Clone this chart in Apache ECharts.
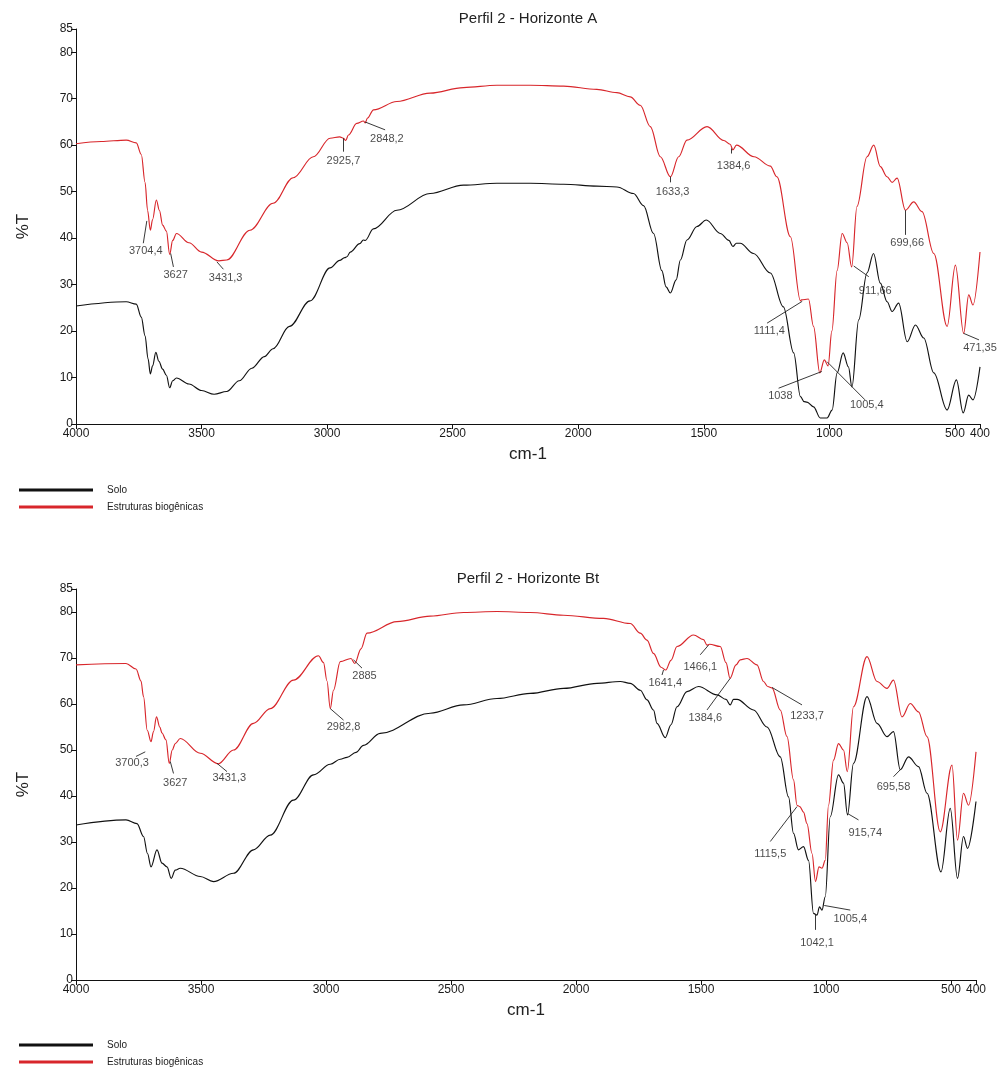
<!DOCTYPE html>
<html>
<head>
<meta charset="utf-8">
<script src="https://cdn.jsdelivr.net/npm/echarts@6.0.0/dist/echarts.min.js"></script>
<style>
html,body{margin:0;padding:0;background:#fff;}
#chart{width:1005px;height:1073px;}
</style>
</head>
<body>
<div id="chart"></div>
<script>
// ---------- DATA ----------
const titles = ['Perfil 2 - Horizonte A', 'Perfil 2 - Horizonte Bt'];
const seriesNames = ['Solo', 'Estruturas biogênicas'];
const xTicks = [4000, 3500, 3000, 2500, 2000, 1500, 1000, 500, 400];
const yTicks = [0, 10, 20, 30, 40, 50, 60, 70, 80, 85];

// Horizonte A - Solo  [cm-1, %T]
const soloA = [[4000,25.4],[3800,26.3],[3760,25.8],[3740,23],[3725,19],[3713,14],[3704,10.8],[3695,12.5],[3682,15.4],[3670,13.5],[3655,11.8],[3640,10.5],[3627,7.8],[3615,9.3],[3600,9.9],[3550,8.6],[3500,7.2],[3450,6.4],[3400,7],[3350,9.3],[3300,12],[3250,14.5],[3215,16.2],[3150,21],[3068,26.5],[2988,33.6],[2950,35.2],[2930,35.8],[2921,36],[2908,37],[2870,38.8],[2856,39.6],[2848,39.5],[2816,42],[2722,46],[2590,49.6],[2457,51.4],[2324,51.8],[2191,51.8],[2058,51.6],[1926,51.2],[1846,51],[1780,49.6],[1740,47],[1700,41],[1667,33],[1650,29.5],[1633,28.2],[1610,31],[1593,35.3],[1567,39.6],[1527,42.5],[1490,43.9],[1434,41],[1400,39.5],[1384,38.2],[1370,38.9],[1355,38.9],[1302,36.7],[1235,32.5],[1183,25.2],[1142,15.3],[1115,5.9],[1100,4.8],[1089,4.7],[1063,3.7],[1036,1.3],[1009,1.3],[989,3],[969,11],[945,15.3],[924,12.3],[910,8],[883,22.4],[850,32.5],[824,36.7],[797,30.3],[770,26.3],[750,24.2],[724,26],[690,17.7],[657,21.3],[624,18.5],[584,11],[531,3],[494,9.5],[467,2.4],[445,6.2],[428,5.2],[400,12.3]];

// Horizonte A - Estruturas biogênicas
const bioA = [[4000,60.3],[3900,60.8],[3800,61.1],[3760,60.5],[3740,58],[3725,52],[3715,46],[3704,41.7],[3695,44],[3680,48.2],[3668,46],[3655,42.8],[3640,41.5],[3627,36.5],[3615,39.5],[3600,41],[3550,39],[3500,37],[3431,35.1],[3400,35.3],[3307,41.7],[3215,47.5],[3135,53],[3055,57.5],[2988,61.5],[2950,61.8],[2935,61.5],[2926,61],[2915,62.2],[2882,64.7],[2855,65.2],[2848,64.8],[2840,65.8],[2815,67.6],[2722,69.4],[2590,71.2],[2457,72.4],[2324,72.9],[2191,72.9],[2058,72.7],[1926,72],[1846,71.3],[1793,70.4],[1753,68.6],[1713,64],[1673,57.5],[1633,53.2],[1600,57.5],[1567,61.1],[1487,64],[1420,61],[1395,60.2],[1384,59],[1370,60],[1300,57.5],[1235,55.5],[1209,53.2],[1155,40.3],[1115,26.5],[1111,26.7],[1083,26.9],[1063,21],[1038,11],[1020,13.8],[1005,12.5],[990,20],[969,33],[949,41],[929,39],[911,33.8],[890,46.8],[850,57.5],[823,60],[797,55.4],[770,53.2],[750,52],[730,52.9],[697,46],[664,47.8],[631,45.7],[584,36.7],[531,21],[498,34.2],[465,19.5],[445,27.8],[428,25.6],[400,37]];

// Horizonte Bt - Solo
const soloB = [[4000,33.7],[3800,34.8],[3756,34],[3730,31.2],[3714,27.5],[3700,24.6],[3676,28.3],[3656,25.4],[3636,24.6],[3619,22.1],[3603,23.9],[3583,24.3],[3503,22.5],[3450,21.4],[3370,23.2],[3290,28.3],[3223,31.5],[3130,39.1],[3050,44.6],[2983,46.9],[2943,48],[2916,48.4],[2880,49.5],[2850,51],[2783,53.6],[2583,58],[2450,59.8],[2316,61.2],[2183,62.3],[2050,63.4],[1916,64.5],[1823,64.9],[1783,64.5],[1743,63],[1716,60.9],[1690,58.7],[1676,55.8],[1643,52.7],[1620,55.5],[1596,59.4],[1556,62.7],[1510,63.8],[1436,62],[1400,61],[1383,59.8],[1370,61],[1356,61],[1290,58.7],[1236,55],[1183,48.5],[1150,39.8],[1130,31.9],[1110,28.3],[1090,29],[1070,26],[1050,14.5],[1036,14.1],[1026,15.9],[1016,15.2],[1003,18.1],[983,35.5],[950,44.6],[930,42.8],[914,35.9],[890,47.1],[836,61.6],[796,55.8],[756,52.9],[730,54],[703,45.7],[670,48.5],[630,46.4],[596,40.6],[540,23.5],[503,37.3],[474,22.1],[450,31.2],[434,28.6],[400,38.8]];

// Horizonte Bt - Estruturas biogênicas
const bioB = [[4000,68.5],[3800,68.8],[3760,67.6],[3740,65],[3730,61.6],[3715,54.3],[3700,51.8],[3690,54],[3678,57.2],[3665,55],[3656,53.7],[3640,52.2],[3627,47.1],[3615,50],[3603,51.4],[3583,52.5],[3503,49.3],[3431,47],[3370,50],[3290,55.8],[3223,59],[3130,65.2],[3030,70.5],[3010,69],[2996,65],[2983,59],[2970,63],[2943,69.2],[2900,69.9],[2885,68.8],[2860,72],[2836,75.4],[2716,77.9],[2583,79.1],[2450,79.9],[2316,80.1],[2183,79.9],[2050,79.3],[1890,78.6],[1783,77.5],[1743,75.4],[1716,73.9],[1690,71],[1660,68],[1641,67.4],[1620,69.5],[1596,72.5],[1530,75],[1490,74],[1476,72.8],[1466,73],[1423,72.5],[1400,69],[1384,65.6],[1360,68.5],[1343,69.6],[1316,69.9],[1276,68.5],[1250,64.9],[1233,63.8],[1216,63.5],[1183,58.7],[1156,52.9],[1130,43.5],[1116,38],[1105,37.7],[1090,36.5],[1076,34],[1056,27.5],[1042,21.4],[1028,24.6],[1016,24.3],[1003,26],[990,38],[970,47.8],[950,51.4],[930,50],[915,45.3],[890,59.4],[836,70.3],[796,64.9],[756,63.4],[730,65.2],[696,57.2],[663,60.1],[630,58.3],[596,52.9],[543,32.2],[496,46.7],[474,30.4],[450,40.6],[430,38],[400,49.6]];

// Peak annotations: [text, peak cm-1, peak %T, leader end cm-1, leader end %T, text cm-1, text %T]
const annA = [
  ['3704,4', 3718, 43.7, 3732, 38.9, 3722, 37.3],
  ['3627',   3623, 36.7, 3612, 33.8, 3603, 32.0],
  ['3431,3', 3439, 34.9, 3413, 33.3, 3404, 31.5],
  ['2925,7', 2935, 61.5, 2935, 58.6, 2935, 56.6],
  ['2848,2', 2849, 65.0, 2769, 63.3, 2762, 61.3],
  ['1633,3', 1633, 53.2, 1633, 52.0, 1624, 50.0],
  ['1384,6', 1390, 59.3, 1390, 58.2, 1381, 55.6],
  ['1111,4', 1108, 26.4, 1248, 21.7, 1239, 20.0],
  ['1038',   1030, 11.3, 1202, 7.7, 1195, 6.0],
  ['1005,4', 1009, 13.4, 858, 5.2, 851, 4.1],
  ['911,66', 903, 34.0, 843, 31.7, 817, 28.7],
  ['699,66', 697, 46.0, 697, 40.7, 690, 38.9],
  ['471,35', 465, 19.5, 404, 18.1, 400, 16.3]
];
const annB = [
  ['3700,3', 3723, 49.6, 3760, 48.6, 3776, 47.2],
  ['3627',   3623, 47.5, 3610, 44.9, 3603, 42.9],
  ['3431,3', 3436, 47.1, 3396, 45.3, 3387, 44.0],
  ['2982,8', 2983, 59.0, 2930, 56.5, 2930, 54.9],
  ['2885',   2890, 69.6, 2856, 67.8, 2846, 66.2],
  ['1641,4', 1650, 67.4, 1656, 66.3, 1643, 64.5],
  ['1466,1', 1470, 72.8, 1503, 70.7, 1503, 68.0],
  ['1384,6', 1383, 65.6, 1476, 58.7, 1483, 56.9],
  ['1233,7', 1216, 63.6, 1096, 59.8, 1076, 57.4],
  ['1115,5', 1116, 37.7, 1223, 30.1, 1223, 27.5],
  ['1042,1', 1043, 14.3, 1043, 10.9, 1036, 8.1],
  ['1005,4', 1007, 16.2, 903, 15.2, 903, 13.3],
  ['915,74', 914, 36.2, 870, 34.8, 843, 31.9],
  ['695,58', 703, 45.7, 730, 44.2, 730, 42.0]
];

// ---------- CHART ----------
const FONT = '"Liberation Sans", Arial, sans-serif';
const RED = '#d8262b';
const chart = echarts.init(document.getElementById('chart'), null, {renderer: 'canvas'});

function xAxisCfg(gi) {
  return {
    type: 'value', gridIndex: gi, inverse: true, min: 400, max: 4000,
    name: 'cm-1', nameLocation: 'middle', nameGap: 22,
    nameTextStyle: {fontFamily: FONT, fontSize: 17, color: '#222'},
    axisLine: {show: true, onZero: false, lineStyle: {color: '#111', width: 1}},
    axisTick: {show: true, length: 5, customValues: xTicks, lineStyle: {color: '#111'}},
    axisLabel: {customValues: xTicks, formatter: v => String(v),
                fontFamily: FONT, fontSize: 12, color: '#1a1a1a', margin: 4},
    splitLine: {show: false}
  };
}
function yAxisCfg(gi) {
  return {
    type: 'value', gridIndex: gi, min: 0, max: 85,
    name: '%T', nameLocation: 'middle', nameGap: 44, nameRotate: 90,
    nameTextStyle: {fontFamily: FONT, fontSize: 17, color: '#222'},
    axisLine: {show: true, lineStyle: {color: '#111', width: 1}},
    axisTick: {show: true, length: 5, customValues: yTicks, lineStyle: {color: '#111'}},
    axisLabel: {customValues: yTicks, formatter: v => String(v),
                fontFamily: FONT, fontSize: 12, color: '#1a1a1a', margin: 3},
    splitLine: {show: false}
  };
}
function lineSeries(name, data, color, gi) {
  return {
    name: name, type: 'line', xAxisIndex: gi, yAxisIndex: gi, data: data,
    showSymbol: false, smooth: 0.35, smoothMonotone: 'x',
    lineStyle: {color: color, width: 1.15}, itemStyle: {color: color},
    silent: true, animation: false, z: color === RED ? 3 : 2
  };
}
function annSeries(ann, gi) {
  return [
    {
      type: 'lines', coordinateSystem: 'cartesian2d', xAxisIndex: gi, yAxisIndex: gi,
      data: ann.map(a => ({coords: [[a[1], a[2]], [a[3], a[4]]]})),
      lineStyle: {color: '#222', width: 0.9, opacity: 1},
      silent: true, animation: false, z: 5
    },
    {
      type: 'scatter', xAxisIndex: gi, yAxisIndex: gi, symbolSize: 0,
      data: ann.map(a => [a[5], a[6], a[0]]),
      label: {show: true, position: 'inside', formatter: p => p.data[2],
              fontFamily: FONT, fontSize: 11, color: '#1a1a1a'},
      silent: true, animation: false, z: 6
    }
  ];
}
function legendCfg(top) {
  return {
    data: seriesNames, orient: 'vertical', left: 19, top: top, padding: 0,
    icon: 'rect', itemWidth: 74, itemHeight: 3, itemGap: 5,
    textStyle: {fontFamily: FONT, fontSize: 10, color: '#222', padding: [0, 0, 0, 9], lineHeight: 12},
    selectedMode: false
  };
}

const option = {
  backgroundColor: '#fff',
  animation: false,
  title: [
    {text: titles[0], left: 528, top: 11, textAlign: 'center', padding: 0,
     textStyle: {fontFamily: FONT, fontSize: 15, fontWeight: 'normal', color: '#222'}},
    {text: titles[1], left: 528, top: 571, textAlign: 'center', padding: 0,
     textStyle: {fontFamily: FONT, fontSize: 15, fontWeight: 'normal', color: '#222'}}
  ],
  legend: [legendCfg(484), legendCfg(1039)],
  grid: [
    {left: 76, right: 25, top: 29, height: 395},
    {left: 76, right: 29, top: 589, height: 391}
  ],
  xAxis: [xAxisCfg(0), xAxisCfg(1)],
  yAxis: [yAxisCfg(0), yAxisCfg(1)],
  series: [
    lineSeries(seriesNames[0], soloA, '#111', 0),
    lineSeries(seriesNames[1], bioA, RED, 0),
    lineSeries(seriesNames[0], soloB, '#111', 1),
    lineSeries(seriesNames[1], bioB, RED, 1),
    ...annSeries(annA, 0),
    ...annSeries(annB, 1)
  ]
};
chart.setOption(option);
</script>
</body>
</html>
